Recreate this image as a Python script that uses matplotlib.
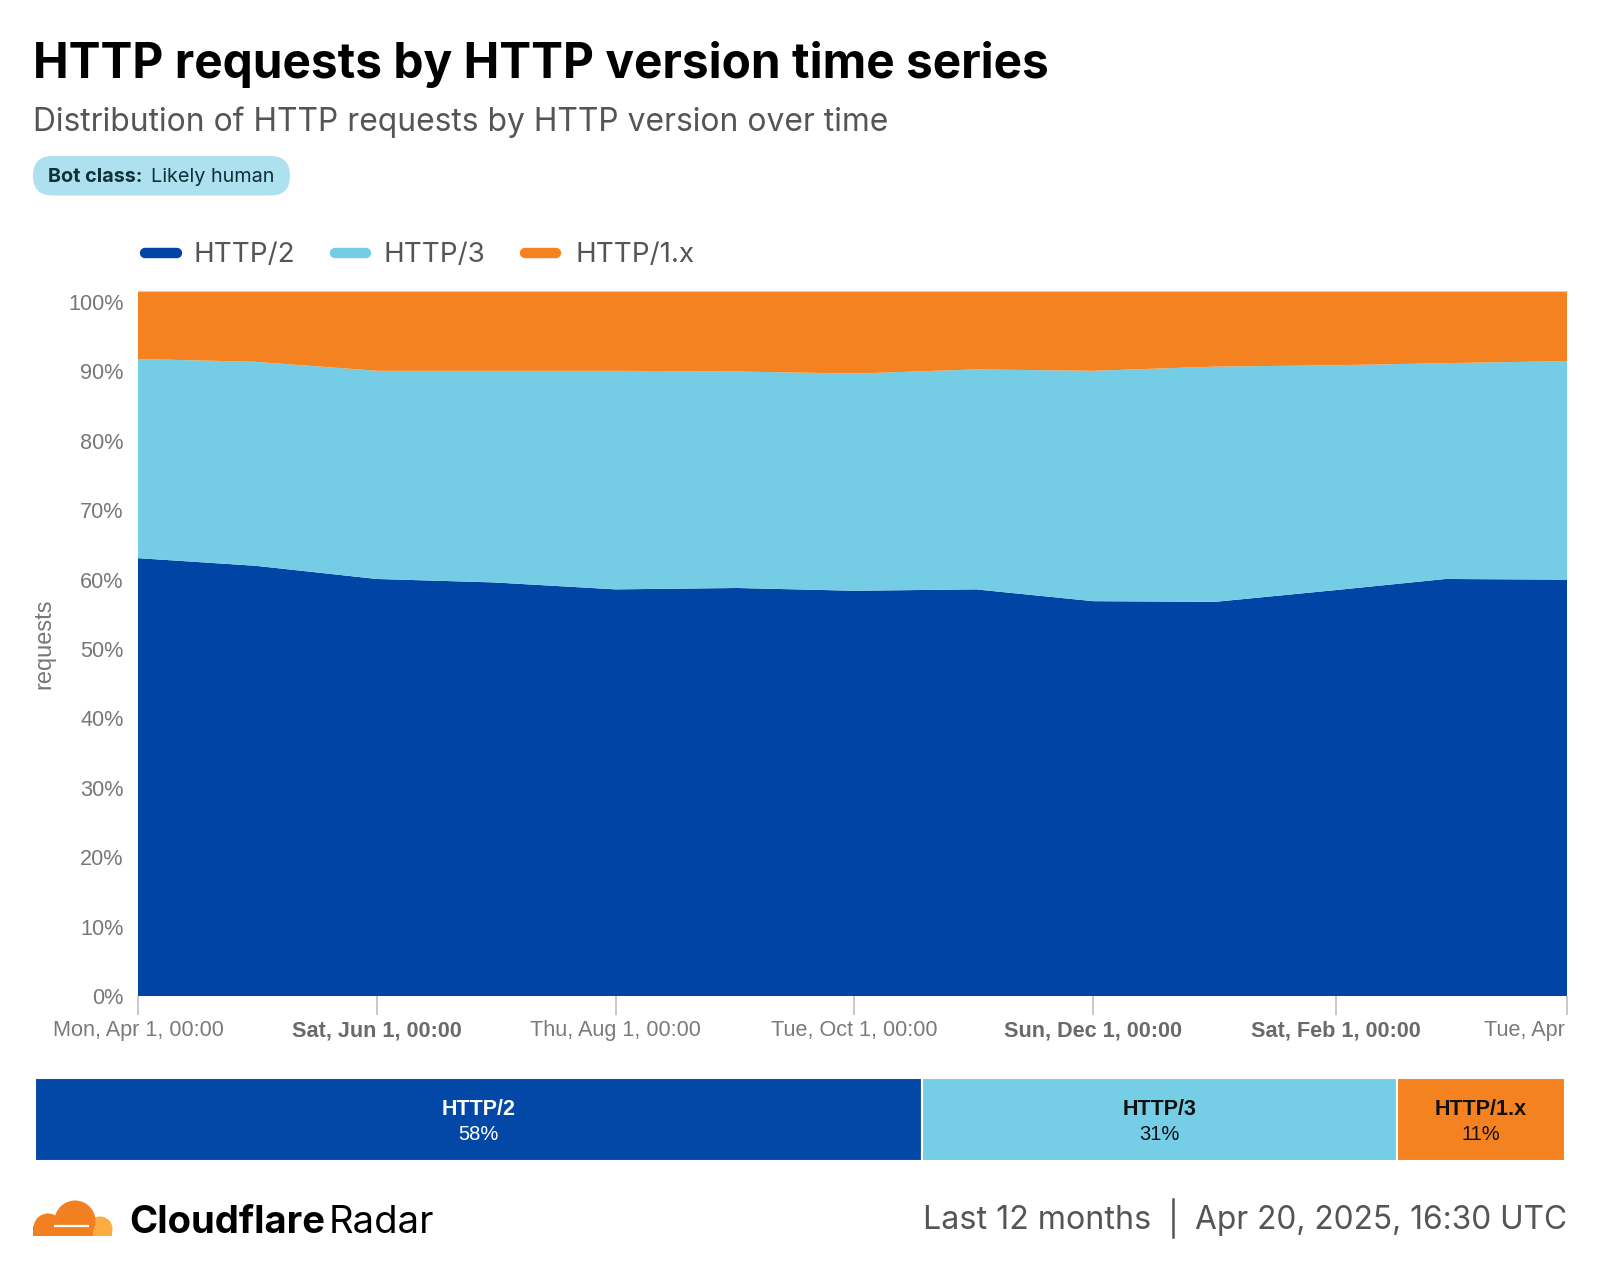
import numpy as np
import pandas as pd
import matplotlib
matplotlib.use("Agg")
import matplotlib.pyplot as plt
from matplotlib.patches import FancyBboxPatch, Circle, Rectangle
from matplotlib.lines import Line2D
from matplotlib.transforms import Bbox

# ---------------- data ----------------
dates = ["2024-04-01", "2024-05-01", "2024-06-01", "2024-07-01", "2024-08-01",
         "2024-09-01", "2024-10-01", "2024-11-01", "2024-12-01", "2025-01-01",
         "2025-02-01", "2025-03-01", "2025-04-01"]
http2 = [63.1, 62.0, 60.1, 59.6, 58.6, 58.8, 58.4, 58.6, 56.9, 56.8, 58.5, 60.1, 60.0]
http3 = [28.7, 29.4, 30.0, 30.5, 31.5, 31.2, 31.3, 31.7, 33.2, 33.9, 32.4, 31.1, 31.5]
http1 = [9.8, 10.2, 11.5, 11.5, 11.5, 11.6, 11.9, 11.3, 11.5, 10.9, 10.7, 10.4, 10.1]
series_names = ["HTTP/2", "HTTP/3", "HTTP/1.x"]

summary_names = ["HTTP/2", "HTTP/3", "HTTP/1.x"]
summary_values = [58, 31, 11]

tick_dates = ["2024-04-01", "2024-06-01", "2024-08-01", "2024-10-01",
              "2024-12-01", "2025-02-01", "2025-04-01"]
tick_labels = ["Mon, Apr 1, 00:00", "Sat, Jun 1, 00:00", "Thu, Aug 1, 00:00",
               "Tue, Oct 1, 00:00", "Sun, Dec 1, 00:00", "Sat, Feb 1, 00:00",
               "Tue, Apr 1, 00:00"]
tick_bold = [False, True, False, False, True, True, False]
y_ticks = list(range(0, 101, 10))

# ---------------- style ----------------
C_H2 = "#0044A5"
C_H3 = "#74CDE5"
C_H1 = "#F58220"
colors = [C_H2, C_H3, C_H1]
bar_colors = ["#0448A7", "#76CDE6", "#F58220"]
W, H = 1600, 1270
DPI = 100
SANS = ["Liberation Sans", "DejaVu Sans"]
INTER = ["Inter", "DejaVu Sans"]

fig = plt.figure(figsize=(W / DPI, H / DPI), dpi=DPI)
fig.patch.set_facecolor("white")


def fbox(x0, y0, x1, y1):
    """pixel box (y down) -> figure fraction rect"""
    return [x0 / W, 1 - y1 / H, (x1 - x0) / W, (y1 - y0) / H]


# ---------------- main area chart ----------------
ax = fig.add_axes(fbox(138, 291, 1567, 996))
x = pd.to_datetime(dates)
ax.stackplot(x, http2, http3, http1, colors=colors, linewidth=0, labels=series_names)
total = np.array(http2) + np.array(http3) + np.array(http1)
ax.set_xlim(x[0], x[-1])
ax.set_ylim(0, total.max())

ax.set_yticks(y_ticks)
ax.set_yticklabels([f"{v}%" for v in y_ticks], fontsize=15.6, color="#777777",
                   family=SANS)
ax.tick_params(axis="y", length=0, pad=10.5)

xt = pd.to_datetime(tick_dates)
ax.set_xticks(xt)
ax.set_xticklabels(tick_labels, fontsize=15.6, family=SANS)
for lbl, b in zip(ax.get_xticklabels(), tick_bold):
    lbl.set_fontweight("bold" if b else "normal")
    lbl.set_color("#6a6a6a" if b else "#7a7a7a")
ax.tick_params(axis="x", length=14, width=1.3, color="#c4c4c4", pad=3.5)

for s in ["left", "right", "bottom"]:
    ax.spines[s].set_visible(False)
ax.spines["top"].set_color("#d0d0d0")
ax.spines["top"].set_linewidth(0.8)

ax.set_ylabel("requests", fontsize=17, color="#777777", family=SANS)
ax.yaxis.set_label_coords(-0.058, 0.5)

# clip last tick label at the plot's right edge (as in the reference)
last = ax.get_xticklabels()[-1]
last.set_clip_on(True)
last.set_clip_box(Bbox.from_extents(0, 0, 1567, H))

# ---------------- summary bar ----------------
bax = fig.add_axes(fbox(35, 1078, 1565, 1161))
left = 0
for name, val, col in zip(summary_names, summary_values, bar_colors):
    bax.barh([0], [val], left=left, color=col, edgecolor="white", linewidth=1.5, height=1.0)
    tc = "white" if name == "HTTP/2" else "#111111"
    bax.text(left + val / 2, 0.115, name, ha="center", va="center", fontsize=15.5,
             fontweight="bold", color=tc, family=SANS)
    bax.text(left + val / 2, -0.175, f"{val}%", ha="center", va="center", fontsize=14.5,
             color=tc, family=SANS)
    left += val
bax.set_xlim(0, sum(summary_values))
bax.set_ylim(-0.5, 0.5)
bax.set_axis_off()

# ---------------- overlay (pixel coords, y down) ----------------
ov = fig.add_axes([0, 0, 1, 1], zorder=5)
ov.set_xlim(0, W)
ov.set_ylim(H, 0)
ov.set_axis_off()
ov.patch.set_visible(False)

# title & subtitle
ov.text(33, 78.5, "HTTP requests by HTTP version time series", fontsize=34.4,
        fontweight="bold", color="#000000", family=INTER, va="baseline", ha="left")
ov.text(33, 131, "Distribution of HTTP requests by HTTP version over time", fontsize=22.9,
        color="#555555", family=INTER, va="baseline", ha="left")

# pill
pill = FancyBboxPatch((33, 156), 257, 39.5, boxstyle="round,pad=0,rounding_size=19.5",
                      fc="#ADE1EF", ec="none")
ov.add_patch(pill)
ov.text(48, 181.5, "Bot class:", fontsize=14.3, fontweight="bold", color="#10303a",
        family=INTER, va="baseline", ha="left")
ov.text(151, 181.5, "Likely human", fontsize=14.3, color="#10303a",
        family=INTER, va="baseline", ha="left")

# legend
leg = [(145, 177, 194, "HTTP/2", C_H2), (335, 366, 384, "HTTP/3", C_H3),
       (525, 556, 575, "HTTP/1.x", C_H1)]
for x0, x1, tx, name, col in leg:
    ov.add_line(Line2D([x0, x1], [253, 253], lw=7.5, color=col, solid_capstyle="round"))
    ov.text(tx, 262, name, fontsize=20.0, color="#555555", family=INTER,
            va="baseline", ha="left")

# Cloudflare logo
clip = Rectangle((20, 1190), 100, 46, transform=ov.transData)
light = [Circle((100, 1229), 12.5, fc="#FBAD41", ec="none"),
         Rectangle((86, 1225), 26, 11, fc="#FBAD41", ec="none")]
main = [Circle((75, 1221), 20.5, fc="#F38020", ec="none"),
        Circle((48, 1228), 14.5, fc="#F38020", ec="none"),
        Rectangle((33, 1226), 60, 10, fc="#F38020", ec="none")]
for p in light + main:
    ov.add_patch(p)
    p.set_clip_path(clip)
ov.add_line(Line2D([54, 89], [1225.5, 1225.5], lw=1.6, color="white",
                   solid_capstyle="butt"))

ov.text(129, 1233, "Cloudflare", fontsize=27.5, fontweight="bold", color="#000000",
        family=INTER, va="baseline", ha="left")
ov.text(329, 1233, "Radar", fontsize=27.5, color="#000000",
        family=INTER, va="baseline", ha="left")

# footer right
ov.text(1567, 1229, "Apr 20, 2025, 16:30 UTC", fontsize=22.8, color="#555555",
        family=INTER, va="baseline", ha="right")
ov.add_line(Line2D([1173, 1173], [1199, 1237], lw=1.8, color="#555555"))
ov.text(1151, 1229, "Last 12 months", fontsize=23.2, color="#555555",
        family=INTER, va="baseline", ha="right")

fig.savefig("out.png", dpi=DPI, facecolor="white")
